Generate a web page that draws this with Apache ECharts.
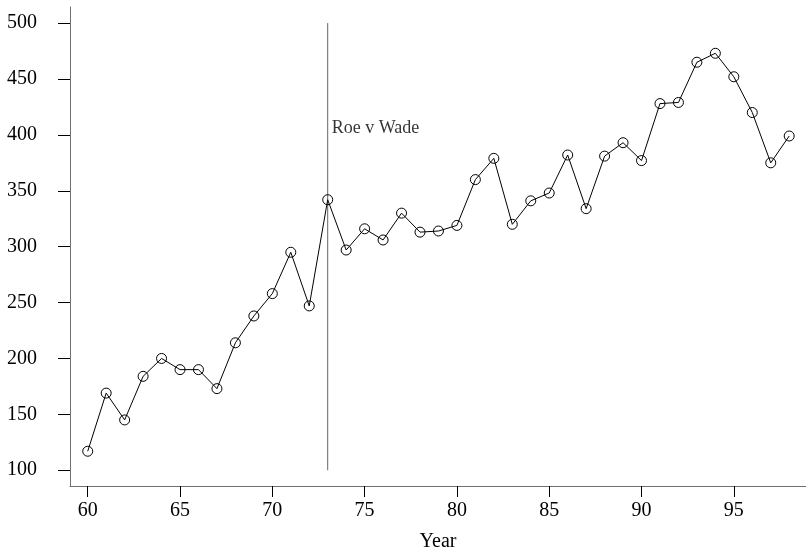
<!DOCTYPE html>
<html>
<head>
<meta charset="utf-8">
<script src="https://cdn.jsdelivr.net/npm/echarts@6/dist/echarts.min.js"></script>
<style>
html,body{margin:0;padding:0;background:#fff;}
#chart{width:806px;height:557px;}
</style>
</head>
<body>
<div id="chart"></div>
<script>
var years = [60,61,62,63,64,65,66,67,68,69,70,71,72,73,74,75,76,77,78,79,80,81,82,83,84,85,86,87,88,89,90,91,92,93,94,95,96,97,98];
var values = [117,169,145,184,200,190,190,173,214,238,258,295,247,342,297,316,306,330,313,314,319,360,379,320,341,348,382,334,381,393,377,428,429,465,473,452,420,375,399];
var xTicks = [60,65,70,75,80,85,90,95];
var yTicks = [100,150,200,250,300,350,400,450,500];
var eventYear = 73;
var eventRange = [100, 500];
var eventLabel = 'Roe v Wade';
var eventLabelY = 406;
var xTitle = 'Year';

var font = 'Liberation Serif';
var chart = echarts.init(document.getElementById('chart'), null, {renderer: 'canvas'});
chart.setOption({
  animation: false,
  backgroundColor: '#fff',
  grid: {left: 70, right: 0, top: 7, bottom: 65, containLabel: false},
  xAxis: {
    type: 'value', min: 59.04, max: 98.91,
    name: xTitle, nameLocation: 'middle', nameGap: 46,
    nameTextStyle: {fontFamily: font, fontSize: 20, color: '#000'},
    splitLine: {show: false},
    axisLine: {show: true, lineStyle: {color: '#707070', width: 1}},
    axisTick: {show: true, length: 11, lineStyle: {color: '#000'}, customValues: xTicks},
    axisLabel: {fontFamily: font, fontSize: 20, color: '#000', margin: 15, customValues: xTicks}
  },
  yAxis: {
    type: 'value', min: 85.9, max: 514.4,
    splitLine: {show: false},
    axisLine: {show: true, lineStyle: {color: '#707070', width: 1}},
    axisTick: {show: true, length: 12, lineStyle: {color: '#000'}, customValues: yTicks},
    axisLabel: {fontFamily: font, fontSize: 20, color: '#000', margin: 33, padding: [5, 0, 0, 0], customValues: yTicks}
  },
  series: [
    {
      type: 'line',
      data: [[eventYear, eventRange[0]], [eventYear, eventRange[1]]],
      symbol: 'none',
      lineStyle: {color: '#666', width: 1},
      silent: true
    },
    {
      type: 'line',
      data: years.map(function(y, i){ return [y, values[i]]; }),
      symbol: 'circle',
      symbolSize: 10,
      itemStyle: {color: 'rgba(0,0,0,0)', borderColor: '#000', borderWidth: 1},
      lineStyle: {color: '#000', width: 1}
    },
    {
      type: 'scatter',
      data: [[eventYear, eventLabelY]],
      symbolSize: 0,
      label: {show: true, position: 'right', distance: 4, formatter: eventLabel,
              fontFamily: font, fontSize: 18, color: '#000'}
    }
  ]
});
</script>
</body>
</html>
